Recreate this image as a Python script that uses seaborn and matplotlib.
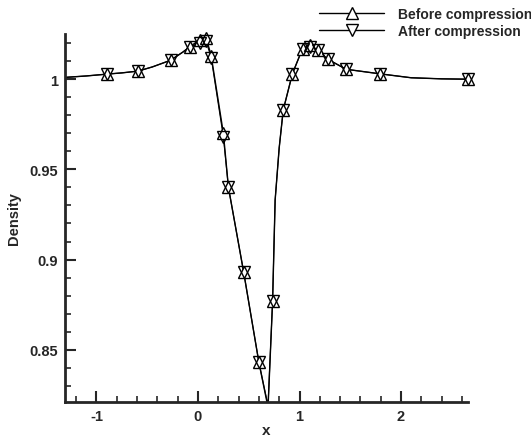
import numpy as np
import pandas as pd
import matplotlib
matplotlib.use('Agg')
import matplotlib.pyplot as plt
from matplotlib.lines import Line2D
from matplotlib.ticker import MultipleLocator, FuncFormatter
import seaborn as sns

# curve values
x_line = [-1.31, -1.1, -0.90, -0.75, -0.59, -0.45, -0.27, -0.15, -0.08, 0.02, 0.08, 0.13,
          0.25, 0.30, 0.45, 0.60, 0.69, 0.735, 0.76, 0.80, 0.84, 0.93, 1.03, 1.10, 1.18,
          1.28, 1.46, 1.79, 2.1, 2.4, 2.66]
before_line = [1.0010, 1.0018, 1.0028, 1.0035, 1.0045, 1.0068, 1.0105, 1.0150, 1.0180, 1.0220,
               1.0230, 1.0130, 0.9700, 0.9400, 0.8930, 0.8430, 0.8180, 0.8770, 0.9330, 0.9620,
               0.9830, 1.0030, 1.0170, 1.0190, 1.0160, 1.0110, 1.0055, 1.0030, 1.0008, 1.0002,
               1.0000]
after_line = [1.0010, 1.0018, 1.0028, 1.0035, 1.0045, 1.0068, 1.0105, 1.0150, 1.0180, 1.0200,
              1.0210, 1.0120, 0.9680, 0.9400, 0.8930, 0.8430, 0.8190, 0.8770, 0.9330, 0.9620,
              0.9830, 1.0030, 1.0170, 1.0180, 1.0160, 1.0110, 1.0055, 1.0030, 1.0008, 1.0002,
              1.0000]

# symbol positions
x_mark = [-0.90, -0.59, -0.27, -0.08, 0.02, 0.08, 0.13, 0.25, 0.30, 0.45, 0.60, 0.735,
          0.84, 0.93, 1.03, 1.10, 1.18, 1.28, 1.46, 1.79, 2.66]
before_mark = [1.0028, 1.0045, 1.0105, 1.0180, 1.0220, 1.0230, 1.0130, 0.9700, 0.9400, 0.8930,
               0.8430, 0.8770, 0.9830, 1.0030, 1.0170, 1.0190, 1.0160, 1.0110, 1.0055,
               1.0030, 1.0000]
after_mark = [1.0028, 1.0045, 1.0105, 1.0180, 1.0200, 1.0210, 1.0120, 0.9680, 0.9400, 0.8930,
              0.8430, 0.8770, 0.9830, 1.0030, 1.0170, 1.0180, 1.0160, 1.0110, 1.0055,
              1.0030, 1.0000]

sns.set_style('ticks')
plt.rcParams['font.family'] = ['Liberation Sans', 'DejaVu Sans']
plt.rcParams['font.weight'] = 'bold'

fig = plt.figure(figsize=(5.31, 4.39), dpi=100)
ax = fig.add_axes([0.1224, 0.082, 0.759, 0.838])

sns.lineplot(x=x_line, y=before_line, ax=ax, color='black', linewidth=1.0, sort=False)
sns.lineplot(x=x_line, y=after_line, ax=ax, color='black', linewidth=0.8, sort=False)
ax.plot(x_mark, before_mark, linestyle='none', marker='^', markersize=8.5,
        markerfacecolor='white', markeredgecolor='black', markeredgewidth=1.0,
        clip_on=False, zorder=3)
ax.plot(x_mark, after_mark, linestyle='none', marker='v', markersize=8.5,
        markerfacecolor='none', markeredgecolor='black', markeredgewidth=1.0,
        clip_on=False, zorder=4)

ax.set_xlim(-1.31, 2.66)
ax.set_ylim(0.821, 1.025)
ax.xaxis.set_major_locator(MultipleLocator(1))
ax.xaxis.set_minor_locator(MultipleLocator(0.2))
ax.yaxis.set_major_locator(MultipleLocator(0.05))
ax.yaxis.set_minor_locator(MultipleLocator(0.01))
ax.xaxis.set_major_formatter(FuncFormatter(lambda v, p: '%g' % round(v, 3)))
ax.yaxis.set_major_formatter(FuncFormatter(lambda v, p: '%g' % round(v, 3)))
ax.tick_params(which='major', direction='in', length=8, width=1.5, labelsize=10.5, pad=5)
ax.tick_params(which='minor', direction='in', length=4, width=1.2)

for s in ['top', 'right']:
    ax.spines[s].set_visible(False)
for s in ['left', 'bottom']:
    ax.spines[s].set_linewidth(2)

ax.set_xlabel('x', fontsize=11, fontweight='bold', labelpad=0)
ax.set_ylabel('Density', fontsize=10.5, fontweight='bold', labelpad=6)

handles = [
    Line2D([], [], color='black', linewidth=1.0, marker='^', markersize=8.5,
           markerfacecolor='white', markeredgecolor='black'),
    Line2D([], [], color='black', linewidth=1.0, marker='v', markersize=8.5,
           markerfacecolor='white', markeredgecolor='black'),
]
fig.legend(handles, ['Before compression', 'After compression'], loc='upper left',
           bbox_to_anchor=(0.585, 1.0), frameon=False, handlelength=4.7,
           handletextpad=1.0, labelspacing=0.2, borderaxespad=0.2,
           prop={'weight': 'bold', 'size': 10})

fig.savefig('out.png', dpi=100)
